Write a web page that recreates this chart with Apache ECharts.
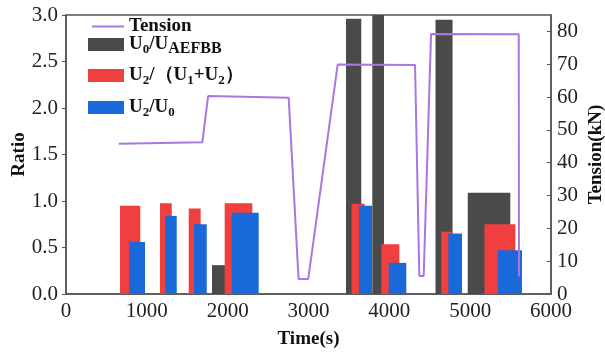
<!DOCTYPE html>
<html>
<head>
<meta charset="utf-8">
<script src="https://cdn.jsdelivr.net/npm/echarts@6/dist/echarts.min.js"></script>
<style>
html,body{margin:0;padding:0;background:#fff;}
#chart{width:605px;height:353px;}
</style>
</head>
<body>
<div id="chart"></div>
<script>
// ---- data (time in s, ratio / kN) ----
const xTicks = [0, 1000, 2000, 3000, 4000, 5000, 6000];
// each bar: [startTime, endTime, ratio]
const u0AEFBB = [[1806,1967,0.31],[3464,3653,2.96],[3789,3934,3.05],[4571,4782,2.95],[4970,5497,1.09]];
const u2U1U2 = [[668,919,0.95],[1163,1308,0.975],[1518,1666,0.92],[1963,2305,0.975],[3534,3695,0.97],[3901,4124,0.535],[4643,4779,0.67],[5177,5559,0.75]];
const u2U0 = [[783,977,0.56],[1228,1370,0.84],[1584,1741,0.75],[2050,2384,0.875],[3625,3786,0.95],[3992,4210,0.335],[4730,4899,0.65],[5342,5641,0.47]];
const tensionTime = [652,1687,1758,2755,2877,2997,3361,4318,4371,4425,4516,5601,5604];
const tensionKN = [45.8,46.2,60.3,59.8,4.6,4.6,69.9,69.8,5.5,5.5,79.2,79.1,5.3];

const SERIF = '"Liberation Serif","Times New Roman",serif';
const C_DARK = '#4a4a4a', C_RED = '#ef3f3f', C_BLUE = '#1a69d8', C_PURPLE = '#a877e2';

function barRender(params, api) {
  const p0 = api.coord([api.value(0), api.value(2)]);
  const p1 = api.coord([api.value(1), 0]);
  const rect = echarts.graphic.clipRectByRect(
    {x: p0[0], y: p0[1], width: p1[0] - p0[0], height: p1[1] - p0[1]},
    {x: params.coordSys.x, y: params.coordSys.y, width: params.coordSys.width, height: params.coordSys.height}
  );
  return rect && {type: 'rect', shape: rect, style: api.style()};
}

const chart = echarts.init(document.getElementById('chart'), null, {renderer: 'canvas'});

const legBase = {
  orient: 'vertical', left: 88, itemWidth: 36, itemHeight: 13, itemGap: 14,
  padding: 0, selectedMode: false,
  textStyle: {fontFamily: SERIF, fontWeight: 'bold', fontSize: 19, color: '#111',
    rich: {
      b: {fontFamily: SERIF, fontWeight: 'bold', fontSize: 19, color: '#111', lineHeight: 24, verticalAlign: 'middle'},
      s: {fontFamily: SERIF, fontWeight: 'bold', fontSize: 13, color: '#111', lineHeight: 13, verticalAlign: 'bottom'},
      a: {fontFamily: SERIF, fontWeight: 'bold', fontSize: 16, color: '#111', lineHeight: 16, verticalAlign: 'bottom'}
    }}
};
const legendLabels = {
  'Tension': '{b|Tension}',
  'U0/UAEFBB': '{b|U}{s|0}{b|/U}{a|AEFBB}',
  'U2/(U1+U2)': '{b|U}{s|2}{b|/（U}{s|1}{b|+U}{s|2}{b|）}',
  'U2/U0': '{b|U}{s|2}{b|/U}{s|0}'
};
const fmt = n => legendLabels[n];

const option = {
  animation: false,
  backgroundColor: '#fff',
  grid: {left: 66, right: 54, top: 15, bottom: 59, containLabel: false, outerBoundsMode: 'none',
         show: true, borderColor: '#555', borderWidth: 1.5, backgroundColor: 'transparent'},
  legend: [
    Object.assign({}, legBase, {top: 17, left: 92, itemWidth: 32, itemHeight: 2, data: [{name: 'Tension', icon: 'rect'}], formatter: fmt}),
    Object.assign({}, legBase, {top: 35, data: [{name: 'U0/UAEFBB', icon: 'rect'}], formatter: fmt}),
    Object.assign({}, legBase, {top: 66, data: [{name: 'U2/(U1+U2)', icon: 'rect'}], formatter: fmt}),
    Object.assign({}, legBase, {top: 98, data: [{name: 'U2/U0', icon: 'rect'}], formatter: fmt})
  ],
  xAxis: {
    type: 'value', min: xTicks[0], max: xTicks[xTicks.length - 1], interval: 1000,
    name: 'Time(s)', nameLocation: 'middle', nameGap: 36, nameMoveOverlap: false,
    nameTextStyle: {fontFamily: SERIF, fontWeight: 'bold', fontSize: 19, color: '#111'},
    axisLine: {lineStyle: {color: '#555', width: 1.5}},
    axisTick: {show: false},
    splitLine: {show: false},
    axisLabel: {fontFamily: SERIF, fontSize: 21, color: '#222', margin: 7, formatter: v => String(v)}
  },
  yAxis: [
    {
      type: 'value', min: 0, max: 3, interval: 0.5, position: 'left',
      name: 'Ratio', nameLocation: 'middle', nameGap: 37, nameRotate: 90, nameMoveOverlap: false,
      nameTextStyle: {fontFamily: SERIF, fontWeight: 'bold', fontSize: 19, color: '#111'},
      axisLine: {show: true, lineStyle: {color: '#555', width: 1.5}},
      axisTick: {show: true, inside: false, length: 4, lineStyle: {color: '#555'}},
      splitLine: {show: false},
      axisLabel: {fontFamily: SERIF, fontSize: 21, color: '#222', margin: 8, formatter: v => v.toFixed(1)}
    },
    {
      type: 'value', min: 0, max: 85, interval: 10, position: 'right',
      name: 'Tension(kN)', nameLocation: 'middle', nameGap: 36, nameRotate: 90, nameMoveOverlap: false,
      nameTextStyle: {fontFamily: SERIF, fontWeight: 'bold', fontSize: 19, color: '#111'},
      axisLine: {show: true, lineStyle: {color: '#555', width: 1.5}},
      axisTick: {show: true, inside: true, length: 4, lineStyle: {color: '#555'}},
      splitLine: {show: false},
      axisLabel: {fontFamily: SERIF, fontSize: 21, color: '#222', margin: 6, showMaxLabel: false}
    }
  ],
  series: [
    {name: 'U0/UAEFBB', type: 'custom', renderItem: barRender, yAxisIndex: 0,
     itemStyle: {color: C_DARK}, encode: {x: [0, 1], y: 2}, data: u0AEFBB, z: 2},
    {name: 'U2/(U1+U2)', type: 'custom', renderItem: barRender, yAxisIndex: 0,
     itemStyle: {color: C_RED}, encode: {x: [0, 1], y: 2}, data: u2U1U2, z: 3},
    {name: 'U2/U0', type: 'custom', renderItem: barRender, yAxisIndex: 0,
     itemStyle: {color: C_BLUE}, encode: {x: [0, 1], y: 2}, data: u2U0, z: 4},
    {name: 'Tension', type: 'line', yAxisIndex: 1, symbol: 'none', z: 5,
     lineStyle: {color: C_PURPLE, width: 2}, itemStyle: {color: C_PURPLE},
     data: tensionTime.map((t, i) => [t, tensionKN[i]])}
  ]
};
chart.setOption(option);
</script>
</body>
</html>
